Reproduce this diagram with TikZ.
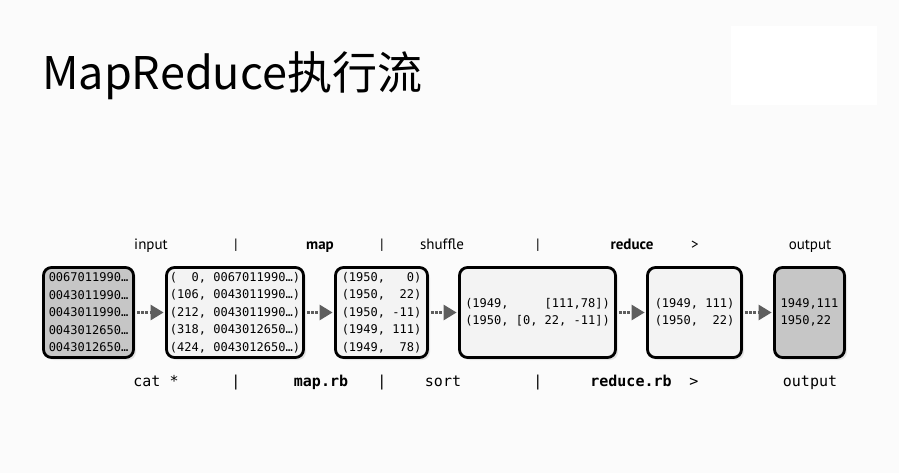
\documentclass[tikz,border=0pt]{standalone}
\usepackage{fontspec}
\usetikzlibrary{arrows.meta,shadows}
\newfontfamily\titlefont{Noto Sans CJK SC}
\newfontfamily\labfont{PT Sans}
\newfontfamily\boxmono{DejaVu Sans Mono}
\definecolor{bg}{HTML}{FBFBFB}
\definecolor{darkfill}{HTML}{C6C6C6}
\definecolor{lightfill}{HTML}{F3F3F3}
\definecolor{arrowgray}{HTML}{5E5E5E}
\tikzset{
  x=1pt,y=-1pt,
  stagebox/.style={draw=black, line width=2.8pt, rounded corners=8pt, inner sep=0pt,
     minimum height=90pt, align=left, font=\boxmono\fontsize{12}{17.5}\selectfont,
     drop shadow={opacity=0.18, shadow xshift=2.5pt, shadow yshift=-2.5pt}},
  darkbox/.style={stagebox, fill=darkfill},
  lightbox/.style={stagebox, fill=lightfill},
  toplab/.style={anchor=base, inner sep=0pt, font=\labfont\fontsize{15}{17}\selectfont},
  botlab/.style={anchor=base, inner sep=0pt, font=\boxmono\fontsize{15}{17}\selectfont},
  flow/.style={draw=arrowgray, line width=2.6pt, dash pattern=on 2.6pt off 1.6pt,
     shorten <=2pt, shorten >=1.5pt, -{Triangle[length=13pt,width=15pt,fill=arrowgray]}},
}
\begin{document}
\begin{tikzpicture}
\fill[bg] (0,0) rectangle (899,473);
\useasboundingbox (0,0) rectangle (899,473);
\fill[white] (731,26) rectangle (877,105);
\node[anchor=base west, inner sep=0pt, font=\titlefont\fontsize{45}{50}\selectfont] (title) at (42,90) {MapReduce执行流};

\node[darkbox, minimum width=90pt] (b1) at (88.5,312.5)
 {0067011990…\\0043011990…\\0043011990…\\0043012650…\\0043012650…};
\node[lightbox, minimum width=137pt] (b2) at (235,312.5)
 {(~~0,~0067011990…)\\(106,~0043011990…)\\(212,~0043011990…)\\(318,~0043012650…)\\(424,~0043012650…)};
\node[lightbox, minimum width=92pt] (b3) at (381.5,312.5)
 {(1950,~~~0)\\(1950,~~22)\\(1950,~-11)\\(1949,~111)\\(1949,~~78)};
\node[lightbox, minimum width=156pt] (b4) at (537.5,312.5)
 {(1949,~~~~~[111,78])\\(1950,~[0,~22,~-11])};
\node[lightbox, minimum width=94pt] (b5) at (694.5,312.5)
 {(1949,~111)\\(1950,~~22)};
\node[darkbox, minimum width=70pt] (b6) at (809.5,312.5)
 {1949,111\\1950,22};

\draw[flow] (b1) -- (b2);
\draw[flow] (b2) -- (b3);
\draw[flow] (b3) -- (b4);
\draw[flow] (b4) -- (b5);
\draw[flow] (b5) -- (b6);

\node[toplab] (t1) at (151,249) {input};
\node[toplab] (s1) at (236,249) {|};
\node[toplab] (t2) at (320,249) {\bfseries map};
\node[toplab] (s2) at (382,249) {|};
\node[toplab] (t3) at (442,249) {shuffle};
\node[toplab] (s3) at (538,249) {|};
\node[toplab] (t4) at (632,249) {\bfseries reduce};
\node[toplab] (t5) at (695,249) {>};
\node[toplab] (t6) at (810,249) {output};

\node[botlab] (u1) at (156,386) {cat *};
\node[botlab] (v1) at (236,386) {|};
\node[botlab] (u2) at (321,386) {\bfseries map.rb};
\node[botlab] (v2) at (382,386) {|};
\node[botlab] (u3) at (443,386) {sort};
\node[botlab] (v3) at (538,386) {|};
\node[botlab] (u4) at (631,386) {\bfseries reduce.rb};
\node[botlab] (u5) at (694,386) {>};
\node[botlab] (u6) at (810,386) {output};
\end{tikzpicture}
\end{document}
